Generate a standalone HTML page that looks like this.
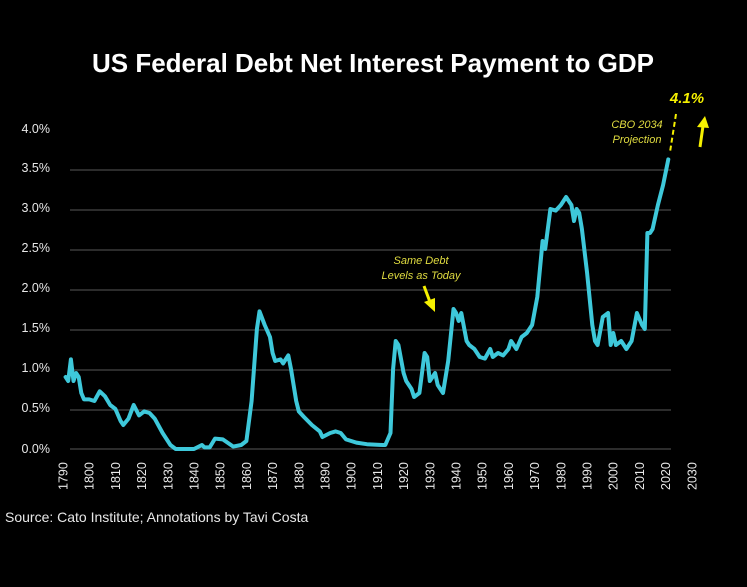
<!DOCTYPE html>
<html><head><meta charset="utf-8"><style>
html,body{margin:0;padding:0;background:#000;}
svg{display:block}
</style></head><body>
<svg width="747" height="587" viewBox="0 0 747 587" xmlns="http://www.w3.org/2000/svg" font-family="Liberation Sans, sans-serif">
<rect width="747" height="587" fill="#000"/>
<text x="373" y="72" fill="#fff" font-size="26" font-weight="bold" text-anchor="middle">US Federal Debt Net Interest Payment to GDP</text>
<g stroke="#3a3a3a" stroke-width="1.5">
<line x1="70" x2="671" y1="170" y2="170"/><line x1="70" x2="671" y1="210" y2="210"/>
<line x1="70" x2="671" y1="250" y2="250"/><line x1="70" x2="671" y1="290" y2="290"/>
<line x1="70" x2="671" y1="330" y2="330"/><line x1="70" x2="671" y1="370" y2="370"/>
<line x1="70" x2="671" y1="410" y2="410"/><line x1="70" x2="671" y1="449" y2="449"/>
</g>
<g fill="#e8e8e8" font-size="12.5" text-anchor="end">
<text x="50" y="133">4.0%</text><text x="50" y="172">3.5%</text><text x="50" y="212">3.0%</text>
<text x="50" y="252">2.5%</text><text x="50" y="292">2.0%</text><text x="50" y="332">1.5%</text>
<text x="50" y="372">1.0%</text><text x="50" y="412">0.5%</text><text x="50" y="453">0.0%</text>
</g>
<g fill="#e8e8e8" font-size="12.5">
<text transform="translate(67.5,490) rotate(-90)">1790</text>
<text transform="translate(93.7,490) rotate(-90)">1800</text>
<text transform="translate(119.9,490) rotate(-90)">1810</text>
<text transform="translate(146.1,490) rotate(-90)">1820</text>
<text transform="translate(172.3,490) rotate(-90)">1830</text>
<text transform="translate(198.5,490) rotate(-90)">1840</text>
<text transform="translate(224.7,490) rotate(-90)">1850</text>
<text transform="translate(250.9,490) rotate(-90)">1860</text>
<text transform="translate(277.1,490) rotate(-90)">1870</text>
<text transform="translate(303.3,490) rotate(-90)">1880</text>
<text transform="translate(329.5,490) rotate(-90)">1890</text>
<text transform="translate(355.7,490) rotate(-90)">1900</text>
<text transform="translate(381.9,490) rotate(-90)">1910</text>
<text transform="translate(408.1,490) rotate(-90)">1920</text>
<text transform="translate(434.3,490) rotate(-90)">1930</text>
<text transform="translate(460.5,490) rotate(-90)">1940</text>
<text transform="translate(486.7,490) rotate(-90)">1950</text>
<text transform="translate(512.9,490) rotate(-90)">1960</text>
<text transform="translate(539.1,490) rotate(-90)">1970</text>
<text transform="translate(565.3,490) rotate(-90)">1980</text>
<text transform="translate(591.5,490) rotate(-90)">1990</text>
<text transform="translate(617.7,490) rotate(-90)">2000</text>
<text transform="translate(643.9,490) rotate(-90)">2010</text>
<text transform="translate(670.1,490) rotate(-90)">2020</text>
<text transform="translate(696.3,490) rotate(-90)">2030</text>
</g>
<polyline fill="none" stroke="#3ec8da" stroke-width="4" stroke-linejoin="round" stroke-linecap="round" points="65.6,377 68.2,381 70.9,359.4 73.5,381 76.1,373 78.7,377 81.3,393 84,399.4 89.2,399.4 94.4,401 99.7,391.4 104.9,396.2 110.2,405 115.4,409 120.6,421 123.3,425 128.5,418.6 133.7,405 139,415.4 144.2,411.4 149.5,413 154.7,418.6 162.6,433 170.4,445 175.7,449 194,449 201.9,445 204.5,447.4 209.7,447.4 215,438.6 222.8,439.4 233.3,446.6 241.2,445 246.4,441 251.6,401 256.9,329 259.5,311.4 264.7,325 270,337 272.6,353 275.2,361 280.5,359.4 283.1,363.4 288.3,355.4 291,369 296.2,401 298.8,411.4 304,417 311.9,425 319.8,431.4 322.4,437 330.2,433 335.5,431.4 340.7,433 346,439.4 356.4,442.6 366.9,444.2 382.6,445 385.3,445 390.5,433 393.1,369 395.7,341 398.4,345 403.6,373 406.2,381 411.5,389 414.1,397 419.4,393 424.6,353 427.2,357 429.8,381 432.5,377 435.1,373 437.7,385 443,393 448.2,361 453.5,309 456.1,313 458.7,321 461.3,313 466.6,341 469.2,345 474.4,349 479.7,357 484.9,358.6 490.2,349 492.8,357 498,353 503.2,355.4 508.5,349 511.1,341 516.4,349 521.6,337 526.8,333 532.1,325 537.3,297 542.6,241 545.2,249 550.4,209 555.7,210.6 560.9,205 566.1,197 571.4,205 574,221 576.6,209 579.2,213 581.9,229 587.1,273 592.3,325 595,341 597.6,345 602.8,317 608.1,313 610.7,345 613.3,333 615.9,345 621.2,341 626.4,349 631.6,341 636.9,313 642.1,325 644.8,329 647.4,233 650,233 652.6,229 657.9,205 663.1,185 668.3,159.4"/>
<text x="5" y="522" fill="#e8e8e8" font-size="14">Source: Cato Institute; Annotations by Tavi Costa</text>
<text x="687" y="103" fill="#f5f000" font-size="15" font-weight="bold" font-style="italic" text-anchor="middle">4.1%</text>
<line x1="676" y1="114" x2="670" y2="152" stroke="#f5f000" stroke-width="2" stroke-dasharray="5,3"/>
<line x1="700" y1="147" x2="703" y2="126" stroke="#f5f000" stroke-width="3"/>
<polygon points="697,127 705,116 709,128" fill="#f5f000"/>
<g fill="#e0dc40" font-size="11" font-style="italic" text-anchor="middle">
<text x="637" y="128">CBO 2034</text><text x="637" y="143">Projection</text>
<text x="421" y="264">Same Debt</text><text x="421" y="279">Levels as Today</text>
</g>
<line x1="424" y1="286" x2="430" y2="302" stroke="#f5f000" stroke-width="3"/>
<polygon points="424,302 435,312 435,298" fill="#f5f000"/>
</svg>
</body></html>
